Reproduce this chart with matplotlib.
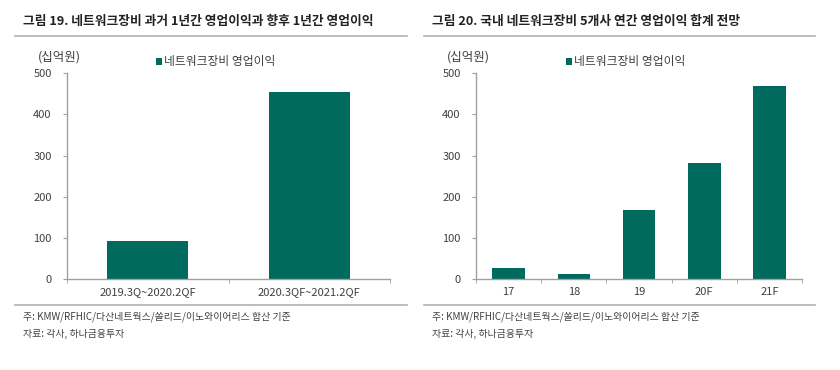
import matplotlib
matplotlib.use("Agg")
import matplotlib.pyplot as plt

plt.rcParams['font.family'] = ['Noto Sans CJK KR', 'DejaVu Sans']

# data
left_title = "그림 19. 네트워크장비 과거 1년간 영업이익과 향후 1년간 영업이익"
right_title = "그림 20. 국내 네트워크장비 5개사 연간 영업이익 합계 전망"
series_name = "네트워크장비 영업이익"
unit_label = "(십억원)"
left_cats = ["2019.3Q~2020.2QF", "2020.3QF~2021.2QF"]
left_vals = [92, 455]
right_cats = ["17", "18", "19", "20F", "21F"]
right_vals = [27, 13, 167, 281, 470]
note = "주: KMW/RFHIC/다산네트웍스/쏠리드/이노와이어리스 합산 기준"
source = "자료: 각사, 하나금융투자"

W, H = 840, 370
bar_color = '#006a5e'
axis_color = '#a0a0a0'
text_color = '#404040'

fig = plt.figure(figsize=(W / 100, H / 100), dpi=100)


def px(x0, y0, x1, y1):
    # pixel box (top-left origin) -> figure fraction rect
    return [x0 / W, 1 - y1 / H, (x1 - x0) / W, (y1 - y0) / H]


def draw_panel(rect, cats, vals, title, tx, line_x0, line_x1, unit_x, leg_x):
    ax = fig.add_axes(px(*rect))
    bars = ax.bar(range(len(cats)), vals, width=0.5, color=bar_color, label=series_name)
    ax.set_xlim(-0.5, len(cats) - 0.5)
    ax.set_ylim(0, 500)
    ax.set_yticks([0, 100, 200, 300, 400, 500])
    ax.set_xticks(range(len(cats)))
    ax.set_xticklabels(cats)
    ax.set_xticks([i + 0.5 for i in range(-1, len(cats))], minor=True)
    ax.tick_params(axis='x', which='major', length=0, pad=6, labelsize=8, colors=text_color)
    ax.tick_params(axis='x', which='minor', length=3, color=axis_color)
    ax.tick_params(axis='y', length=3, color=axis_color, labelsize=8, labelcolor=text_color, pad=8)
    for s in ['top', 'right']:
        ax.spines[s].set_visible(False)
    for s in ['left', 'bottom']:
        ax.spines[s].set_color(axis_color)
        ax.spines[s].set_linewidth(1.0)
    ax.legend(handles=[bars], loc='center left', frameon=False, fontsize=8.5,
              handlelength=0.5, handleheight=0.5, handletextpad=0.2,
              bbox_to_anchor=(leg_x / W, 1 - 62 / H), bbox_transform=fig.transFigure,
              labelcolor=text_color, borderpad=0)
    fig.text(unit_x / W, 1 - 57 / H, unit_label, fontsize=9, color=text_color,
             ha='left', va='center')
    fig.text(tx / W, 1 - 21 / H, title, fontsize=9.2, fontweight='bold', color='#222222',
             ha='left', va='center')
    fig.add_artist(plt.Line2D([line_x0 / W, line_x1 / W], [1 - 36 / H, 1 - 36 / H],
                              color='#b0b0b0', lw=1.2))
    fig.add_artist(plt.Line2D([line_x0 / W, line_x1 / W], [1 - 305 / H, 1 - 305 / H],
                              color='#b0b0b0', lw=1.2))
    fig.text(tx / W, 1 - 317 / H, note, fontsize=7.1, color=text_color, ha='left', va='center')
    fig.text(tx / W, 1 - 334 / H, source, fontsize=7.1, color=text_color, ha='left', va='center')
    return ax


draw_panel((67, 73.3, 390, 279), left_cats, left_vals, left_title, 23, 15, 407, 38, 150)
draw_panel((476, 73.3, 802, 279), right_cats, right_vals, right_title, 432, 424, 815, 447, 560)

fig.savefig("out.png", dpi=100, facecolor='white')
